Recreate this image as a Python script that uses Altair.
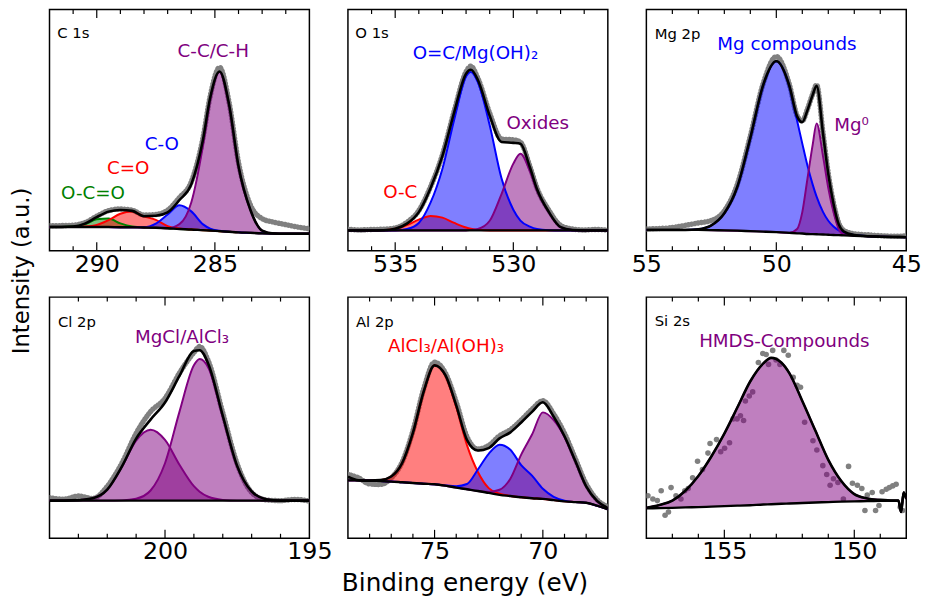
import altair as alt
import pandas as pd

FONT = "DejaVu Sans"
W, H = 263, 244
PURPLE, BLUE, RED, GREEN, GRAY = "#800080", "#0000ff", "#ff0000", "#008000", "#808080"

# ---------------- C 1s ----------------
c1s_x = [292, 291.5, 291, 290.5, 290, 289.5, 289, 288.5, 288, 287.5, 287, 286.5, 286, 285.5, 285.2, 284.8, 284.4, 284, 283.5, 283, 282.5, 282, 281.5, 281]
c1s_bg = [9.8, 9.8, 9.8, 9.8, 9.8, 9.8, 9.7, 9.7, 9.6, 9.5, 9.3, 9.0, 8.8, 8.5, 8.35, 8.1, 7.85, 7.6, 7.4, 7.2, 7.1, 7.0, 7.0, 7.0]
c1s_oco = [9.8, 9.8, 10.0, 11.0, 13.0, 13.3, 11.3, 10.0, 9.6, 9.5, 9.3, 9.0, 8.8, 8.5, 8.35, 8.1, 7.85, 7.6, 7.4, 7.2, 7.1, 7.0, 7.0, 7.0]
c1s_cdo = [9.8, 9.8, 9.8, 10.0, 10.7, 12.7, 15.3, 16.2, 14.2, 12.8, 10.2, 9.2, 8.8, 8.5, 8.35, 8.1, 7.85, 7.6, 7.4, 7.2, 7.1, 7.0, 7.0, 7.0]
c1s_co = [9.8, 9.8, 9.8, 9.8, 9.8, 9.8, 9.7, 9.7, 9.7, 11.2, 15.0, 18.8, 16.3, 10.9, 9.15, 8.3, 7.9, 7.6, 7.4, 7.2, 7.1, 7.0, 7.0, 7.0]
c1s_cc = [9.8, 9.8, 9.8, 9.8, 9.8, 9.8, 9.7, 9.7, 9.6, 9.5, 9.3, 11.0, 20.0, 43.8, 62.6, 74.1, 60.5, 35.0, 17.0, 8.3, 7.1, 7.0, 7.0, 7.0]
c1s_env = [9.8, 9.8, 10.0, 11.2, 13.9, 16.2, 16.9, 16.5, 14.3, 14.5, 15.9, 21.0, 27.5, 46.2, 63.4, 74.3, 60.6, 35.0, 17.0, 8.3, 7.1, 7.0, 7.0, 7.0]
c1s_data = [10.3, 10.4, 10.6, 11.6, 14.3, 16.6, 17.3, 16.8, 14.8, 15.0, 16.8, 22.0, 28.5, 47.0, 64.0, 76.0, 61.5, 36.5, 19.0, 13.3, 11.8, 10.8, 9.8, 9.1]
c1s_lab_text = ["C 1s", "C-C/C-H", "C-O", "C=O", "O-C=O"]
c1s_lab_x = [291.67, 286.58, 287.97, 289.57, 291.51]
c1s_lab_y = [90.2, 82.7, 44.3, 34.1, 24.0]
c1s_lab_color = ["black", PURPLE, BLUE, RED, GREEN]

# ---------------- O 1s ----------------
o1s_x = [537, 536.5, 536, 535.5, 535, 534.5, 534, 533.5, 533, 532.5, 532, 531.8, 531.5, 531, 530.5, 530, 529.7, 529.3, 529, 528.5, 528, 527.5, 527, 526.5, 526]
o1s_bg = [8.4] * 25
o1s_oc = [8.4, 8.4, 8.4, 8.5, 9.1, 10.6, 12.9, 14.4, 13.7, 11.5, 9.6, 9.1, 8.7, 8.4, 8.4, 8.4, 8.4, 8.4, 8.4, 8.4, 8.4, 8.4, 8.4, 8.4, 8.4]
o1s_oh = [8.4, 8.4, 8.4, 8.4, 8.4, 9.0, 11.5, 20.0, 34.0, 54.4, 72.2, 74.1, 69.9, 52.0, 30.0, 17.0, 12.5, 10.0, 9.0, 8.5, 8.4, 8.4, 8.4, 8.4, 8.4]
o1s_ox = [8.4, 8.4, 8.4, 8.4, 8.4, 8.4, 8.4, 8.4, 8.4, 8.4, 8.4, 8.6, 9.0, 12.4, 23.5, 36.1, 40.2, 33.0, 25.0, 16.0, 9.8, 8.6, 8.4, 8.4, 8.4]
o1s_env = [8.4, 8.4, 8.4, 8.5, 9.1, 11.2, 16.0, 26.0, 39.3, 57.5, 73.4, 75.0, 70.8, 56.0, 45.1, 44.7, 44.3, 34.6, 25.6, 16.1, 9.8, 8.6, 8.4, 8.4, 8.4]
o1s_data = [8.9, 8.6, 8.8, 8.9, 9.4, 11.8, 16.6, 26.6, 39.8, 58.0, 74.2, 76.5, 71.5, 57.0, 46.3, 46.0, 45.0, 35.0, 26.0, 16.8, 10.5, 9.0, 8.6, 8.8, 8.5]
o1s_lab_text = ["O 1s", "O=C/Mg(OH)\u2082", "Oxides", "O-C"]
o1s_lab_x = [536.69, 534.26, 530.29, 535.51]
o1s_lab_y = [90.1, 82.1, 52.8, 24.3]
o1s_lab_color = ["black", BLUE, PURPLE, RED]

# ---------------- Mg 2p ----------------
mg_x = [55, 54.5, 54, 53.5, 53, 52.5, 52, 51.5, 51, 50.5, 50, 49.5, 49.2, 49, 48.8, 48.6, 48.45, 48.2, 48, 47.8, 47.6, 47.4, 47, 46.5, 46, 45.5, 45]
mg_bg = [8.6, 8.6, 8.6, 8.6, 8.6, 8.5, 8.4, 8.3, 8.1, 7.9, 7.7, 7.4, 7.2, 7.1, 6.9, 6.85, 6.8, 6.7, 6.6, 6.5, 6.45, 6.35, 6.2, 6.0, 5.8, 5.7, 5.6]
mg_comp = [8.6, 8.6, 8.6, 8.6, 8.9, 10.5, 15.5, 26.5, 46.8, 68.9, 78.6, 68.4, 53.9, 44.4, 35.2, 27.4, 22.4, 16.0, 12.4, 10.0, 8.45, 7.45, 6.5, 6.0, 5.8, 5.7, 5.6]
mg_metal = [8.6, 8.6, 8.6, 8.6, 8.6, 8.5, 8.4, 8.3, 8.1, 7.9, 7.7, 7.4, 9.0, 16.0, 30.0, 44.0, 52.8, 39.0, 26.0, 16.0, 9.0, 6.8, 6.2, 6.0, 5.8, 5.7, 5.6]
mg_env = [8.6, 8.6, 8.6, 8.6, 8.9, 10.5, 15.5, 26.5, 46.8, 68.9, 78.6, 68.4, 55.7, 53.3, 58.3, 64.6, 68.4, 48.3, 31.8, 19.5, 11.0, 7.9, 6.5, 6.0, 5.8, 5.7, 5.6]
mg_data = [9.0, 9.2, 9.6, 10.5, 11.5, 12.5, 16.5, 27.5, 47.5, 69.5, 80.5, 69.0, 56.0, 53.8, 58.8, 65.0, 68.8, 48.5, 32.0, 19.8, 11.5, 8.4, 7.0, 6.6, 6.2, 6.0, 6.1]
mg_lab_text = ["Mg 2p", "Mg compounds", "Mg\u2070"]
mg_lab_x = [54.68, 52.27, 47.77]
mg_lab_y = [90.0, 85.6, 51.9]
mg_lab_color = ["black", BLUE, PURPLE]

# ---------------- Cl 2p ----------------
cl_x = [204, 203.5, 203, 202.5, 202, 201.5, 201, 200.5, 200, 199.5, 199, 198.8, 198.5, 198, 197.5, 197, 196.5, 196, 195.5, 195]
cl_bg = [15.6] * 20
cl_p12 = [15.6, 15.6, 15.8, 16.6, 20.2, 29.5, 40.5, 45.0, 40.8, 30.5, 21.6, 19.3, 17.2, 15.9, 15.6, 15.6, 15.6, 15.6, 15.6, 15.6]
cl_p32 = [15.6, 15.6, 15.6, 15.6, 15.6, 15.7, 16.4, 19.8, 31.1, 52.4, 71.7, 74.3, 70.7, 50.5, 29.9, 19.4, 16.2, 15.6, 15.6, 15.6]
cl_env = [15.6, 15.6, 15.8, 16.6, 20.2, 29.6, 41.3, 49.2, 56.3, 67.3, 77.7, 78.0, 72.3, 50.8, 29.9, 19.4, 16.2, 15.6, 15.6, 15.6]
cl_data = [16.8, 16.2, 17.5, 16.5, 21.5, 31.0, 43.5, 52.5, 58.0, 68.5, 77.0, 79.5, 73.5, 52.0, 30.8, 19.0, 15.9, 15.6, 16.1, 15.4]
cl_lab_text = ["Cl 2p", "MgCl/AlCl\u2083"]
cl_lab_x = [203.71, 201.04]
cl_lab_y = [89.8, 83.6]
cl_lab_color = ["black", PURPLE]

# ---------------- Al 2p ----------------
al_x = [79, 78.5, 78, 77.5, 77, 76.5, 76, 75.5, 75, 74.5, 74, 73.5, 73, 72.5, 72, 71.5, 71, 70.5, 70, 69.5, 69, 68.5, 68, 67.5, 67]
al_bg = [24.0, 24.0, 23.9, 23.7, 23.5, 23.2, 22.9, 22.6, 22.4, 21.8, 21.0, 20.3, 19.6, 18.8, 18.0, 17.5, 17.0, 16.6, 16.3, 15.8, 15.3, 15.0, 14.7, 13.5, 12.0]
al_cl = [24.0, 24.0, 23.9, 24.1, 25.6, 31.1, 43.7, 60.9, 71.7, 67.5, 54.5, 38.5, 27.5, 20.8, 18.5, 17.5, 17.0, 16.6, 16.3, 15.8, 15.3, 15.0, 14.7, 13.5, 12.0]
al_ox = [24.0, 24.0, 23.9, 23.7, 23.5, 23.2, 22.9, 22.6, 22.4, 21.9, 21.6, 22.5, 28.5, 35.0, 38.8, 36.7, 30.3, 26.0, 20.5, 17.2, 15.6, 15.0, 14.7, 13.5, 12.0]
al_met = [24.0, 24.0, 23.9, 23.7, 23.5, 23.2, 22.9, 22.6, 22.4, 21.8, 21.0, 20.3, 19.6, 19.2, 20.1, 24.7, 34.7, 43.0, 52.2, 49.0, 42.0, 32.0, 21.5, 15.5, 12.5]
al_env = [25.5, 24.0, 23.9, 24.1, 25.6, 31.1, 43.7, 60.9, 71.7, 67.6, 55.1, 40.7, 36.4, 37.4, 41.4, 43.9, 48.0, 52.4, 56.4, 50.4, 42.3, 32.0, 21.5, 15.5, 12.5]
al_data = [26.5, 25.0, 22.5, 22.3, 25.0, 31.5, 44.5, 62.0, 73.0, 68.5, 56.5, 42.0, 37.0, 38.5, 42.5, 45.0, 49.0, 53.5, 57.0, 51.5, 43.5, 33.0, 22.5, 16.0, 13.0]
al_lab_text = ["Al 2p", "AlCl\u2083/Al(OH)\u2083"]
al_lab_x = [78.63, 77.15]
al_lab_y = [89.7, 79.9]
al_lab_color = ["black", RED]

# ---------------- Si 2s ----------------
si_x = [158, 157.5, 157, 156.5, 156, 155.5, 155, 154.5, 154, 153.5, 153.2, 152.8, 152.5, 152, 151.5, 151, 150.5, 150, 149.5, 149, 148.5, 148.3, 148.2, 148.1, 148]
si_bg = [12.4, 12.5, 12.6, 12.8, 12.9, 13.1, 13.3, 13.5, 13.7, 14.0, 14.1, 14.3, 14.4, 14.6, 14.8, 15.0, 15.2, 15.3, 15.4, 15.5, 15.6, 15.6, 10.9, 19.0, 16.3]
si_comp = [12.6, 13.8, 15.6, 19.7, 25.8, 33.9, 43.4, 54.2, 65.1, 72.5, 74.8, 72.8, 68.5, 56.9, 44.7, 32.5, 23.7, 18.3, 16.5, 15.9, 15.6, 15.6, 10.9, 19.0, 16.3]
si_env = list(si_comp)
si_pts_x = [157.94, 157.75, 157.58, 157.43, 157.28, 157.15, 157.05, 156.86, 156.67, 156.52, 156.39, 156.22, 156.03, 155.84, 155.63, 155.55, 155.30, 155.14, 154.99, 154.80, 154.66, 154.51, 154.38, 154.26, 154.19, 154.04, 153.91, 153.69, 153.52, 153.39, 153.30, 153.14, 153.01, 152.86, 152.71, 152.54, 152.35, 152.20, 152.07, 151.91, 151.59, 151.44, 151.21, 151.06, 150.93, 150.80, 150.63, 150.42, 150.22, 150.07, 149.88, 149.71, 149.59, 149.50, 149.31, 149.18, 149.05, 148.93, 148.77, 148.65, 148.52, 148.39, 148.23, 148.14]
si_pts_y = [17.6, 16.3, 15.6, 19.7, 9.5, 10.9, 21.0, 17.6, 16.3, 19.7, 20.6, 25.1, 31.9, 28.5, 35.3, 39.3, 40.9, 35.9, 37.3, 39.6, 49.5, 49.5, 50.8, 48.8, 56.9, 59.0, 60.7, 72.9, 76.6, 76.2, 72.1, 77.9, 73.9, 72.1, 77.9, 75.9, 66.7, 63.4, 62.6, 48.1, 40.4, 36.6, 30.1, 26.4, 22.0, 24.7, 23.1, 16.3, 29.8, 22.8, 22.0, 20.6, 11.5, 17.9, 19.0, 11.5, 13.6, 19.3, 20.3, 21.0, 21.7, 22.4, 12.9, 11.5]
si_lab_text = ["Si 2s", "HMDS-Compounds"]
si_lab_x = [157.68, 155.97]
si_lab_y = [90.0, 81.7]
si_lab_color = ["black", PURPLE]

Y_TITLE = "Intensity (a.u.)"
X_TITLE = "Binding energy (eV)"


def panel(x, bg, env, comps, domain, majors, labs, data=None, pts=None, extra=None):
    cols = {"x": x, "bg": bg, "env": env}
    for i, (vals, _) in enumerate(comps):
        cols[f"c{i}"] = vals
    if data is not None:
        cols["data"] = data
    df = pd.DataFrame(cols)

    xs = alt.Scale(domain=domain, reverse=True, nice=False, zero=False)
    ax = alt.Axis(values=majors, ticks=False, domain=False, grid=False,
                  labelFontSize=24, labelFont=FONT, labelColor="black",
                  labelPadding=2, labelFlush=False, labelOverlap=False,
                  title=None, format="d")
    ys = alt.Scale(domain=[0, 100], nice=False, zero=False)

    def X(f):
        return alt.X(f, type="quantitative", scale=xs, axis=ax)

    def Y(f):
        return alt.Y(f, type="quantitative", scale=ys, axis=None)

    lo, hi = domain
    inner_major = [m for m in majors if lo < m < hi]
    minor = [t for t in range(int(lo) + 1, int(hi) + 1) if lo < t < hi and t not in majors]
    layers = []
    for tv, ln in ((minor, 4.5), (inner_major, 8.5)):
        tdf = pd.DataFrame({"t": tv})
        layers.append(alt.Chart(tdf).mark_rule(color="black", strokeWidth=1.2).encode(
            x=X("t"), y=alt.value(H), y2=alt.value(H - ln)))
        layers.append(alt.Chart(tdf).mark_rule(color="black", strokeWidth=1.2).encode(
            x=X("t"), y=alt.value(0), y2=alt.value(ln)))

    base = alt.Chart(df)
    if data is not None:
        layers.append(base.mark_line(color=GRAY, strokeWidth=5.5, strokeDash=[0.1, 3.2],
                                     strokeCap="round", interpolate="monotone", clip=True)
                      .encode(x=X("x"), y=Y("data")))
    if pts is not None:
        pdf = pd.DataFrame({"px": pts[0], "py": pts[1]})
        layers.append(alt.Chart(pdf).mark_circle(color=GRAY, size=32, opacity=1, clip=True)
                      .encode(x=X("px"), y=Y("py")))
    for i, (_, col) in enumerate(comps):
        layers.append(base.mark_area(color=col, opacity=0.5, interpolate="monotone", clip=True)
                      .encode(x=X("x"), y=Y(f"c{i}"), y2=alt.Y2("bg")))
    for i, (_, col) in enumerate(comps):
        layers.append(base.mark_line(color=col, strokeWidth=2, interpolate="monotone", clip=True)
                      .encode(x=X("x"), y=Y(f"c{i}")))
    layers.append(base.mark_line(color="black", strokeWidth=2.6, interpolate="monotone", clip=True)
                  .encode(x=X("x"), y=Y("env")))
    layers.append(base.mark_line(color="black", strokeWidth=2.4, interpolate="monotone", clip=True)
                  .encode(x=X("x"), y=Y("bg")))

    text, lx, ly, lc = labs
    ldf = pd.DataFrame({"text": text, "lx": lx, "ly": ly, "color": lc,
                        "size": [15] + [18.5] * (len(text) - 1)})
    layers.append(alt.Chart(ldf).mark_text(align="left", baseline="middle", font=FONT).encode(
        x=X("lx"), y=Y("ly"), text="text:N",
        color=alt.Color("color:N", scale=None), size=alt.Size("size:Q", scale=None)))
    if extra is not None:
        layers.extend(extra)
    return alt.layer(*layers).properties(width=W, height=H)


ytitle = alt.Chart(pd.DataFrame({"t": [Y_TITLE]})).mark_text(
    angle=270, fontSize=23, font=FONT, align="center", baseline="middle", color="black"
).encode(text="t:N", x=alt.value(-28), y=alt.value(H + 20.5))

xtitle = alt.Chart(pd.DataFrame({"t": [X_TITLE]})).mark_text(
    fontSize=25, font=FONT, align="center", baseline="middle", color="black"
).encode(text="t:N", x=alt.value(118.5), y=alt.value(H + 45.5))

p1 = panel(c1s_x, c1s_bg, c1s_env,
           [(c1s_oco, GREEN), (c1s_cdo, RED), (c1s_co, BLUE), (c1s_cc, PURPLE)],
           [281, 292], [290, 285],
           (c1s_lab_text, c1s_lab_x, c1s_lab_y, c1s_lab_color), data=c1s_data, extra=[ytitle])
p2 = panel(o1s_x, o1s_bg, o1s_env,
           [(o1s_oc, RED), (o1s_oh, BLUE), (o1s_ox, PURPLE)],
           [526, 537], [535, 530],
           (o1s_lab_text, o1s_lab_x, o1s_lab_y, o1s_lab_color), data=o1s_data)
p3 = panel(mg_x, mg_bg, mg_env,
           [(mg_comp, BLUE), (mg_metal, PURPLE)],
           [45, 55], [55, 50, 45],
           (mg_lab_text, mg_lab_x, mg_lab_y, mg_lab_color), data=mg_data)
p4 = panel(cl_x, cl_bg, cl_env,
           [(cl_p12, PURPLE), (cl_p32, PURPLE)],
           [195, 204], [200, 195],
           (cl_lab_text, cl_lab_x, cl_lab_y, cl_lab_color), data=cl_data)
p5 = panel(al_x, al_bg, al_env,
           [(al_cl, RED), (al_ox, BLUE), (al_met, PURPLE)],
           [67, 79], [75, 70],
           (al_lab_text, al_lab_x, al_lab_y, al_lab_color), data=al_data, extra=[xtitle])
p6 = panel(si_x, si_bg, si_env,
           [(si_comp, PURPLE)],
           [148, 158], [155, 150],
           (si_lab_text, si_lab_x, si_lab_y, si_lab_color), pts=(si_pts_x, si_pts_y))

chart = alt.concat(p1, p2, p3, p4, p5, p6, columns=3,
                   spacing={"column": 39, "row": 47}, bounds="flush").configure_view(
    stroke="black", strokeWidth=1.5
).properties(padding={"left": 2, "top": -4, "right": 5, "bottom": 5})

chart.save("out.html", embed_options={"renderer": "svg", "actions": False})
